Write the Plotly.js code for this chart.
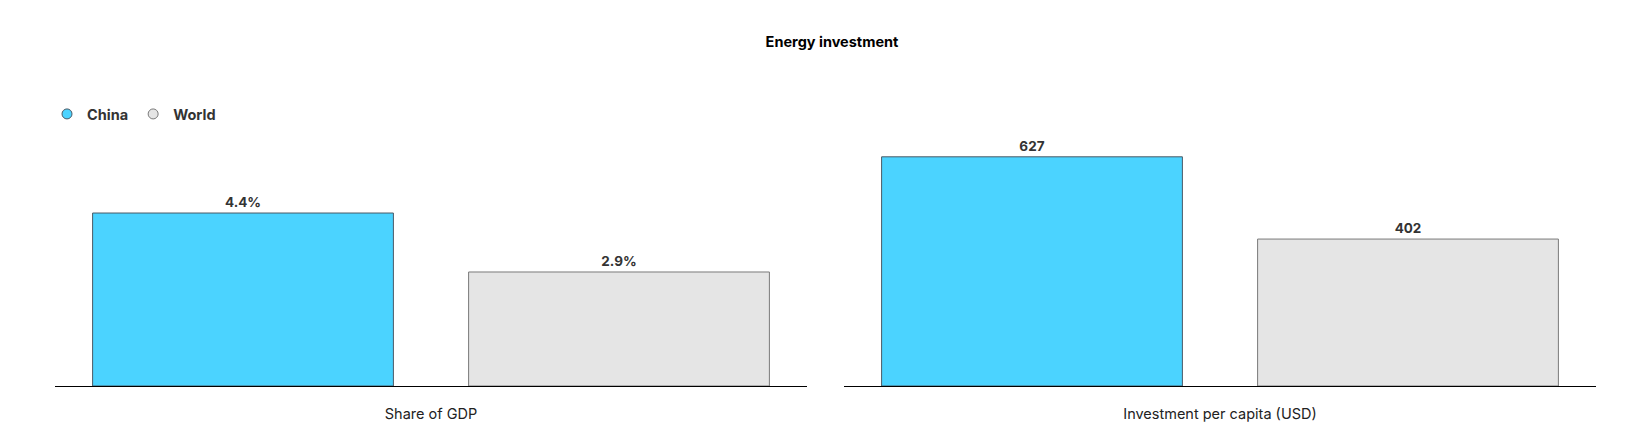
<!DOCTYPE html>
<html>
<head>
<meta charset="utf-8">
<script src="https://cdn.plot.ly/plotly-3.0.1.min.js"></script>
<style>html,body{margin:0;padding:0;background:#fff;}#chart{width:1632px;height:439px;}</style>
</head>
<body>
<div id="chart"></div>
<script>
const seriesNames = ["China", "World"];
const shareOfGDP = [4.4, 2.9];
const shareLabels = ["4.4%", "2.9%"];
const perCapita = [627, 402];
const perCapitaLabels = ["627", "402"];
const panelTitles = ["Share of GDP", "Investment per capita (USD)"];
const fillColors = ["#4BD3FF", "#E5E5E5"];
const lineColors = ["#4a5a66", "#7a7a7a"];

const FONT = "Inter, 'Liberation Sans', Arial, sans-serif";

const traces = [
  {
    type: "bar", x: seriesNames, y: shareOfGDP, text: shareLabels,
    texttemplate: "%{text}", textposition: "outside", cliponaxis: false,
    textfont: {family: FONT, size: 13.5, color: "#333", weight: 700},
    marker: {color: fillColors, line: {color: lineColors, width: 1}},
    xaxis: "x", yaxis: "y", showlegend: false, hoverinfo: "skip"
  },
  {
    type: "bar", x: seriesNames, y: perCapita, text: perCapitaLabels,
    texttemplate: "%{text}", textposition: "outside", cliponaxis: false,
    textfont: {family: FONT, size: 13.5, color: "#333", weight: 700},
    marker: {color: fillColors, line: {color: lineColors, width: 1}},
    xaxis: "x2", yaxis: "y2", showlegend: false, hoverinfo: "skip"
  }
];
seriesNames.forEach((n, i) => {
  traces.push({
    type: "scatter", mode: "markers", x: [null], y: [null], name: n,
    marker: {symbol: "circle", size: 10, color: fillColors[i], line: {color: lineColors[i], width: 1}},
    xaxis: "x", yaxis: "y", hoverinfo: "skip"
  });
});

const axisCommon = {
  showgrid: false, zeroline: false, showticklabels: false, ticks: "",
  fixedrange: true, automargin: false
};

const layout = {
  width: 1632, height: 439,
  margin: {l: 55, r: 36, t: 130, b: 53},
  paper_bgcolor: "#fff", plot_bgcolor: "#fff",
  font: {family: FONT, color: "#222"},
  title: {text: "<b>Energy investment</b>", font: {family: FONT, size: 14.5, color: "#000"},
          x: 832/1632, xanchor: "center", xref: "container", y: 1 - 42/439, yanchor: "middle", yref: "container"},
  bargap: 0.2,
  showlegend: true,
  legend: {orientation: "h", x: 47/1632, xref: "container", y: 1 - 98/439, yref: "container",
           xanchor: "left", yanchor: "top",
           font: {family: FONT, size: 14.5, color: "#333", weight: 700},
           itemwidth: 30, tracegroupgap: 0, bgcolor: "rgba(0,0,0,0)"},
  xaxis: Object.assign({}, axisCommon, {domain: [0, 752/1541], showline: true, linecolor: "#000", linewidth: 1,
         title: {text: panelTitles[0], font: {family: FONT, size: 14.5, color: "#222"}, standoff: 22}}),
  yaxis: Object.assign({}, axisCommon, {range: [0, 255/39.16], showline: false}),
  xaxis2: Object.assign({}, axisCommon, {domain: [789/1541, 1], anchor: "y2", showline: true, linecolor: "#000", linewidth: 1,
         title: {text: panelTitles[1], font: {family: FONT, size: 14.5, color: "#222"}, standoff: 22}}),
  yaxis2: Object.assign({}, axisCommon, {range: [0, 255/0.3641], anchor: "x2", showline: false})
};

Plotly.newPlot("chart", traces, layout, {displayModeBar: false, staticPlot: true});
</script>
</body>
</html>
